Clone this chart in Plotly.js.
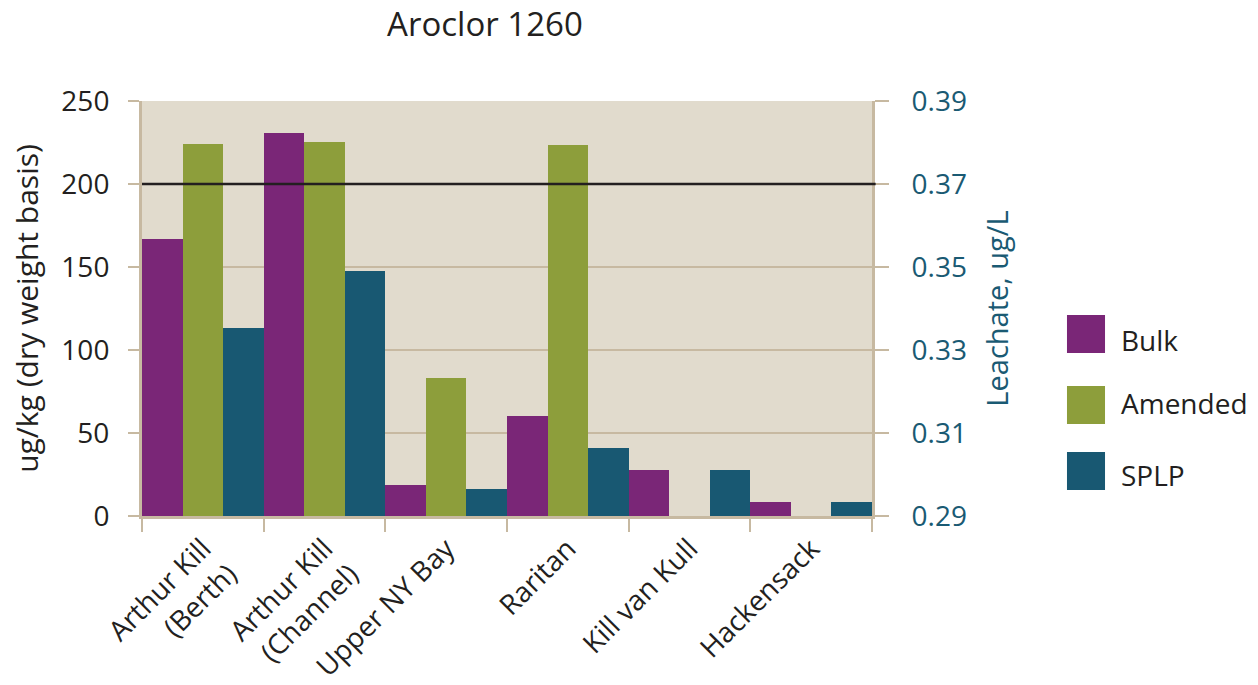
<!DOCTYPE html>
<html>
<head>
<meta charset="utf-8">
<script src="https://cdn.plot.ly/plotly-3.0.1.min.js"></script>
<style>html,body{margin:0;padding:0;background:#fff;}#chart{width:1258px;height:685px;}</style>
</head>
<body>
<div id="chart"></div>
<script>
const categories = ["Arthur Kill<br>(Berth)", "Arthur Kill<br>(Channel)", "Upper NY Bay", "Raritan", "Kill van Kull", "Hackensack"];
const seriesNames = ["Bulk", "Amended", "SPLP"];
const bulk = [167, 231, 18.5, 60.5, 27.5, 8.6];
const amended = [224, 225.5, 83, 223.5, null, null];
const splp = [0.3354, 0.3490, 0.2964, 0.3065, 0.3010, 0.2934];
const leftTicks = [0, 50, 100, 150, 200, 250];
const rightTicks = [0.29, 0.31, 0.33, 0.35, 0.37, 0.39];
const thresholdValue = 200;
const titleText = "Aroclor 1260";
const leftTitle = "ug/kg (dry weight basis)";
const rightTitle = "Leachate, ug/L";

const colors = ["#7A2677", "#8D9E3B", "#185872"];
const FONT = "Open Sans, Noto Sans, sans-serif";
const TAN = "#C7B9A1";

const traces = [
  {type: "bar", name: seriesNames[0], x: categories, y: bulk, yaxis: "y", marker: {color: colors[0], line: {width: 0}}, alignmentgroup: "g", offsetgroup: "1"},
  {type: "bar", name: seriesNames[1], x: categories, y: amended, yaxis: "y", marker: {color: colors[1], line: {width: 0}}, alignmentgroup: "g", offsetgroup: "2"},
  {type: "bar", name: seriesNames[2], x: categories, y: splp, yaxis: "y2", marker: {color: colors[2], line: {width: 0}}, alignmentgroup: "g", offsetgroup: "3"}
];

const legendY = [[0.3928, 0.4843], [0.2217, 0.3133], [0.0627, 0.1542]];
const legendTextY = [0.424, 0.272, 0.099];
const shapes = [
  {type: "line", xref: "paper", yref: "y", x0: 0, x1: 1.005, y0: thresholdValue, y1: thresholdValue, line: {color: "#231F20", width: 2.5}, layer: "above"}
];
const annotations = [];
seriesNames.forEach((n, i) => {
  shapes.push({type: "rect", xref: "paper", yref: "paper", x0: 1.2671, x1: 1.3192, y0: legendY[i][0], y1: legendY[i][1], fillcolor: colors[i], line: {width: 0}});
  annotations.push({xref: "paper", yref: "paper", x: 1.3384, y: legendTextY[i], xanchor: "left", yanchor: "middle", text: n, showarrow: false, font: {family: FONT, size: 28, color: "#231F20"}});
});

const layout = {
  width: 1258, height: 685,
  margin: {l: 142, r: 386, t: 101, b: 169},
  paper_bgcolor: "#ffffff",
  plot_bgcolor: "#E1DBCD",
  showlegend: false,
  barmode: "group",
  bargap: 0,
  bargroupgap: 0,
  title: {text: titleText, x: 0.3855, xref: "container", xanchor: "center", y: 0.965, yref: "container", yanchor: "middle", font: {family: FONT, size: 33, color: "#231F20"}},
  xaxis: {
    type: "category",
    tickson: "boundaries",
    ticks: "outside", ticklen: 13, tickwidth: 2, tickcolor: TAN,
    showline: true, linecolor: TAN, linewidth: 3,
    showgrid: false,
    tickangle: -45,
    ticklabelstandoff: 2,
    tickfont: {family: FONT, size: 28, color: "#231F20"},
    fixedrange: true
  },
  yaxis: {
    range: [0, 250], tickvals: leftTicks, ticktext: leftTicks.map(String),
    showgrid: true, gridcolor: TAN, gridwidth: 2.5,
    zeroline: false,
    showline: true, linecolor: TAN, linewidth: 3,
    ticks: "outside", ticklen: 11, tickwidth: 2.5, tickcolor: TAN,
    ticklabelstandoff: 13,
    tickfont: {family: FONT, size: 28, color: "#231F20"},
    title: {text: leftTitle, standoff: 14, font: {family: FONT, size: 30, color: "#231F20"}},
    fixedrange: true
  },
  yaxis2: {
    overlaying: "y", side: "right",
    range: [0.29, 0.39], tickvals: rightTicks, ticktext: rightTicks.map(v => v.toFixed(2)),
    showgrid: false, zeroline: false,
    showline: true, linecolor: TAN, linewidth: 3,
    ticks: "outside", ticklen: 14, tickwidth: 2.5, tickcolor: TAN,
    ticklabelstandoff: 17,
    tickfont: {family: FONT, size: 28, color: "#1A5A73"},
    title: {text: rightTitle, standoff: 22, font: {family: FONT, size: 29, color: "#1A5A73"}},
    fixedrange: true
  },
  shapes: shapes,
  annotations: annotations
};

Plotly.newPlot("chart", traces, layout, {displayModeBar: false, staticPlot: true});
</script>
</body>
</html>
